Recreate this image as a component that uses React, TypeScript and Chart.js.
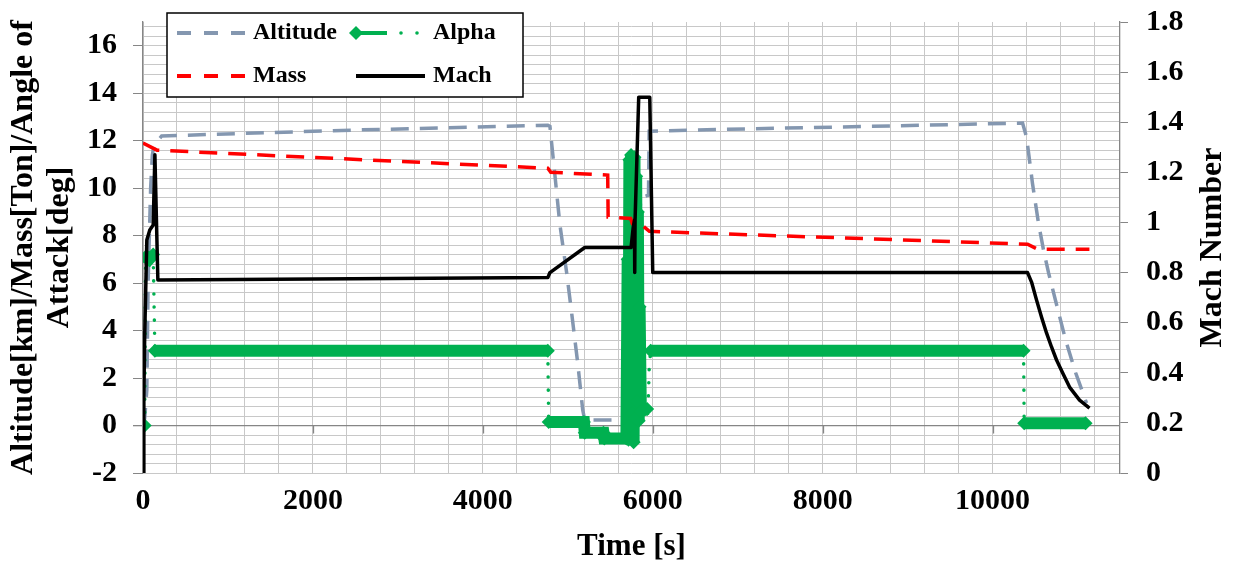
import React, { useEffect, useRef } from 'react';
import { Chart, registerables } from 'chart.js';

Chart.register(...registerables);

const FONT = '"Liberation Serif", "Times New Roman", serif';
const GREEN = '#00B050';
const GRAY = '#8497B0';
const RED = '#FF0000';
const BLACK = '#000000';
const GRID = '#c8c8c8';
const AXIS = '#868686';

// ---- Data ----
const xTickValues = [0, 2000, 4000, 6000, 8000, 10000];
const xMax = 11500;
const xGridStep = 400;

const altitudeTime = [0, 20, 45, 60, 90, 110, 130, 220, 2500, 4765, 4790, 4847, 4906, 4988, 5047, 5118, 5176, 5200, 5694, 5760, 5860, 5950, 5958, 6500, 8500, 10353, 10400, 10470, 10540, 10600, 10660, 10760, 10860, 10980, 11106];
const altitudeKm = [0, 0.3, 1.5, 6, 10, 11.4, 11.8, 12.2, 12.45, 12.65, 12.6, 10.6, 8.5, 6.4, 4.7, 2.6, 0.65, 0.23, 0.23, 3.5, 9.6, 9.7, 12.4, 12.45, 12.6, 12.74, 12.15, 10.2, 8.53, 7.39, 6.42, 5.0, 3.6, 2.2, 0.95];

const massTime = [0, 165, 4765, 4800, 5470, 5475, 5740, 5760, 5880, 5960, 10412, 10530, 11140];
const massTon = [11.9, 11.6, 10.84, 10.67, 10.55, 8.78, 8.72, 8.5, 8.42, 8.18, 7.64, 7.43, 7.43];

const alphaTime = [20, 30, 70, 120, 140, 4765, 4775, 5190, 5200, 5420, 5430, 5690, 5705, 5715, 5725, 5735, 5745, 5755, 5765, 5775, 5785, 5795, 5805, 5815, 5825, 5835, 5845, 5860, 5935, 5950, 5958, 5975, 10365, 10372, 11095];
const alphaDeg = [0, 7.1, 7.0, 7.2, 3.15, 3.15, 0.15, 0.15, -0.3, -0.3, -0.55, -0.55, 7.0, -0.6, 11.2, 0.0, 11.4, 0.5, 10.8, -0.7, 11.3, 0.3, 10.5, 1.0, 9.0, 0.2, 5.0, 0.6, 0.7, 1.3, 2.4, 3.15, 3.15, 0.1, 0.1];
// 1 = dense marker run between the two points, 0 = dotted connector
const alphaSegment = [0, 1, 1, 0, 1, 0, 1, 1, 1, 1, 1, 1, 1, 1, 1, 1, 1, 1, 1, 1, 1, 1, 1, 1, 1, 1, 1, 1, 0, 0, 0, 1, 0, 1];

const machTime = [0, 10, 20, 45, 80, 120, 140, 175, 4765, 4790, 5200, 5745, 5770, 5785, 5788, 5792, 5835, 5965, 6000, 10412, 10459, 10518, 10576, 10635, 10694, 10753, 10824, 10906, 11024, 11141];
const machNumber = [0, 0.3, 0.55, 0.93, 0.97, 0.99, 1.27, 0.77, 0.78, 0.8, 0.9, 0.9, 0.98, 1.01, 0.8, 1.01, 1.5, 1.5, 0.8, 0.8, 0.762, 0.69, 0.623, 0.559, 0.503, 0.451, 0.4, 0.343, 0.291, 0.259];

const leftLabelStep = 2;

function pts(t: number[], v: number[]) {
  return t.map((x, i) => ({ x, y: v[i] }));
}

function noPad(s: any) {
  s.paddingTop = 0;
  s.paddingBottom = 0;
  s.paddingLeft = 0;
  s.paddingRight = 0;
}

const overlayPlugin = {
  id: 'overlay',
  beforeDatasetsDraw(chart: any) {
    const { ctx, scales } = chart;
    const x = scales.x;
    const y0 = scales.y.getPixelForValue(0);
    ctx.save();
    ctx.strokeStyle = AXIS;
    ctx.lineWidth = 1.3;
    x.ticks.forEach((t: any) => {
      const px = Math.round(x.getPixelForValue(t.value)) + 0.5;
      ctx.beginPath();
      ctx.moveTo(px, y0);
      ctx.lineTo(px, y0 + 8);
      ctx.stroke();
    });
    ctx.restore();
  },
  afterDraw(chart: any) {
    const { ctx, chartArea } = chart;
    ctx.save();
    // Right axis title
    ctx.translate(1213, (chartArea.top + chartArea.bottom) / 2);
    ctx.rotate(-Math.PI / 2);
    ctx.fillStyle = BLACK;
    ctx.font = `bold 32px ${FONT}`;
    ctx.textAlign = 'center';
    ctx.textBaseline = 'middle';
    ctx.fillText('Mach Number', 0, 0);
    ctx.restore();

    // Legend
    ctx.save();
    ctx.fillStyle = '#ffffff';
    ctx.fillRect(167, 13, 356, 84);
    ctx.strokeStyle = BLACK;
    ctx.lineWidth = 1.5;
    ctx.strokeRect(167, 13, 356, 84);
    const r1 = 33;
    const r2 = 76;
    ctx.lineWidth = 4;
    ctx.lineCap = 'butt';
    ctx.strokeStyle = GRAY;
    ctx.setLineDash([14, 13]);
    ctx.beginPath(); ctx.moveTo(177, r1); ctx.lineTo(245, r1); ctx.stroke();
    ctx.strokeStyle = RED;
    ctx.beginPath(); ctx.moveTo(177, r2); ctx.lineTo(245, r2); ctx.stroke();
    ctx.setLineDash([]);
    ctx.strokeStyle = GREEN;
    ctx.fillStyle = GREEN;
    ctx.beginPath(); ctx.moveTo(356, r1); ctx.lineTo(387, r1); ctx.stroke();
    ctx.beginPath();
    ctx.moveTo(356, r1 - 7); ctx.lineTo(363, r1); ctx.lineTo(356, r1 + 7); ctx.lineTo(349, r1); ctx.closePath();
    ctx.fill();
    [401, 417].forEach((dx) => { ctx.beginPath(); ctx.arc(dx, r1, 1.8, 0, Math.PI * 2); ctx.fill(); });
    ctx.strokeStyle = BLACK;
    ctx.beginPath(); ctx.moveTo(356, r2); ctx.lineTo(425, r2); ctx.stroke();
    ctx.fillStyle = BLACK;
    ctx.font = `bold 24px ${FONT}`;
    ctx.textAlign = 'left';
    ctx.textBaseline = 'middle';
    ctx.fillText('Altitude', 253, r1);
    ctx.fillText('Mass', 253, r2);
    ctx.fillText('Alpha', 433, r1);
    ctx.fillText('Mach', 433, r2);
    ctx.restore();
  },
};

export default function App() {
  const ref = useRef<HTMLCanvasElement>(null);
  useEffect(() => {
    const isBand = (i: number) => alphaSegment[i] === 1;
    const tickFont = { family: FONT, size: 30, weight: 'bold' as const };
    const chart = new Chart(ref.current as HTMLCanvasElement, {
      type: 'line',
      data: {
        datasets: [
          {
            label: 'Mach',
            data: pts(machTime, machNumber),
            yAxisID: 'y1',
            xAxisID: 'x',
            borderColor: BLACK,
            borderWidth: 3.5,
            borderJoinStyle: 'round',
            pointRadius: 0,
            tension: 0,
            order: 0,
          },
          {
            label: 'Mass',
            data: pts(massTime, massTon),
            yAxisID: 'y',
            xAxisID: 'x',
            borderColor: RED,
            borderWidth: 3.5,
            borderDash: [18, 11],
            pointRadius: 0,
            tension: 0,
            order: 1,
          },
          {
            label: 'Alpha',
            data: pts(alphaTime, alphaDeg),
            yAxisID: 'y',
            xAxisID: 'x',
            borderColor: GREEN,
            borderWidth: 3.5,
            pointStyle: 'rectRot',
            pointRadius: (c: any) => {
              const i = c.dataIndex;
              return i === 0 || isBand(i) || isBand(i - 1) ? 7 : 0;
            },
            pointBackgroundColor: GREEN,
            pointBorderColor: GREEN,
            pointBorderWidth: 0,
            tension: 0,
            order: 2,
            segment: {
              borderWidth: (c: any) => (isBand(c.p0DataIndex) ? 12 : 3.5),
              borderDash: (c: any) => (isBand(c.p0DataIndex) ? [] : [0.1, 13]),
              borderCapStyle: (c: any) => (isBand(c.p0DataIndex) ? 'butt' : 'round'),
            },
          } as any,
          {
            label: 'Altitude',
            data: pts(altitudeTime, altitudeKm),
            yAxisID: 'y',
            xAxisID: 'x',
            borderColor: GRAY,
            borderWidth: 3.5,
            borderDash: [18, 11],
            pointRadius: 0,
            tension: 0,
            order: 3,
          },
        ],
      },
      options: {
        animation: false,
        responsive: false,
        maintainAspectRatio: false,
        layout: { padding: { top: 22, left: 0, right: 0, bottom: 0 } },
        plugins: { legend: { display: false }, tooltip: { enabled: false } },
        scales: {
          x2: {
            type: 'linear',
            position: 'bottom',
            min: 0,
            max: xMax,
            weight: 10,
            afterFit: (s: any) => { s.height = 0; noPad(s); },
            afterBuildTicks: (s: any) => {
              const t = [];
              for (let v = 0; v < xMax; v += xGridStep) t.push({ value: v });
              s.ticks = t;
            },
            border: { display: false },
            grid: { color: GRID, lineWidth: 1, drawTicks: false },
            ticks: { display: false, autoSkip: false },
          },
          x: {
            type: 'linear',
            position: 'bottom',
            min: 0,
            max: xMax,
            weight: 0,
            afterFit: (s: any) => { s.height = 94; noPad(s); },
            afterBuildTicks: (s: any) => {
              s.ticks = xTickValues.map((v) => ({ value: v }));
            },
            border: { display: false },
            grid: { display: false, drawTicks: false },
            ticks: {
              autoSkip: false,
              maxRotation: 0,
              minRotation: 0,
              padding: 10,
              color: BLACK,
              font: tickFont,
              callback: (v: any) => String(Math.round(Number(v))),
            },
            title: {
              display: true,
              text: 'Time [s]',
              color: BLACK,
              font: { family: FONT, size: 31, weight: 'bold' },
              padding: { top: 0, bottom: 1 },
            },
          },
          y: {
            position: 'left',
            min: -2,
            max: 17,
            afterFit: (s: any) => { s.width = 143; noPad(s); },
            border: { color: AXIS, width: 1.3 },
            grid: {
              color: (c: any) => (Math.abs(c.tick?.value ?? 1) < 1e-6 ? AXIS : GRID),
              lineWidth: (c: any) => (Math.abs(c.tick?.value ?? 1) < 1e-6 ? 1.3 : 1),
              tickLength: 10,
              tickColor: (c: any) => {
                const r = Math.round((c.tick?.value ?? 0.5) * 10) / 10;
                return Math.abs(r % leftLabelStep) < 1e-6 ? AXIS : 'rgba(0,0,0,0)';
              },
            },
            ticks: {
              stepSize: 0.4,
              autoSkip: false,
              includeBounds: false,
              padding: 16,
              color: BLACK,
              font: tickFont,
              callback: (v: any) => {
                const r = Math.round(Number(v) * 10) / 10;
                return Math.abs(r % leftLabelStep) < 1e-6 ? String(r) : '';
              },
            },
            title: {
              display: true,
              text: ['Altitude[km]/Mass[Ton]/Angle of', 'Attack[deg]'],
              color: BLACK,
              font: { family: FONT, size: 32, weight: 'bold', lineHeight: 1.15 },
              padding: { top: 5, bottom: 0 },
            },
          },
          y1: {
            position: 'right',
            min: 0,
            max: 1.8,
            afterFit: (s: any) => { s.width = 116; noPad(s); },
            border: { color: AXIS, width: 1.3 },
            grid: { drawOnChartArea: false, tickLength: 8, tickColor: AXIS },
            ticks: {
              stepSize: 0.2,
              autoSkip: false,
              padding: 18,
              color: BLACK,
              font: tickFont,
              callback: (v: any) => String(Math.round(Number(v) * 10) / 10),
            },
          },
        },
      },
      plugins: [overlayPlugin],
    } as any);
    return () => chart.destroy();
  }, []);

  return (
    <div style={{ position: 'absolute', left: 0, top: 0, width: 1236, height: 567, background: '#fff' }}>
      <canvas ref={ref} width={1236} height={567} style={{ display: 'block', width: 1236, height: 567 }} />
    </div>
  );
}
